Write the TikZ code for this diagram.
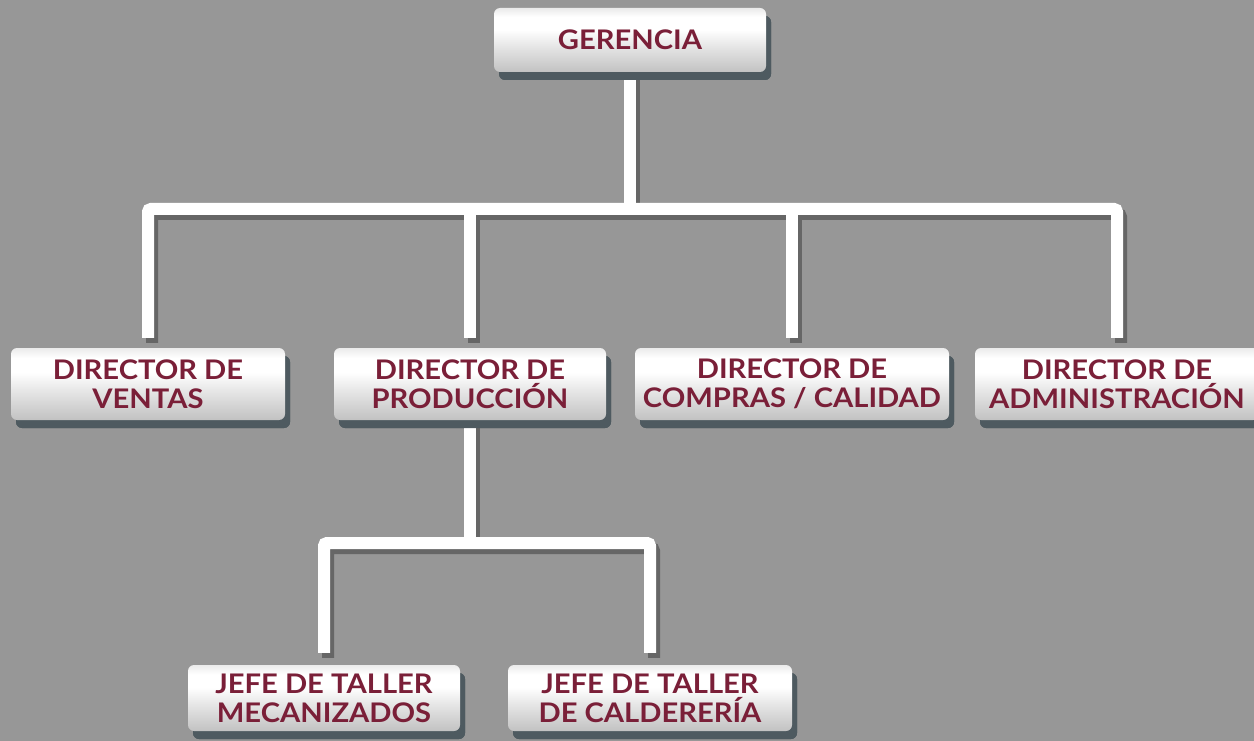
\documentclass[tikz,border=0pt]{standalone}
\usepackage{fontspec}
\setmainfont{Lato}
\newfontfamily\boxfont{Lato}[FakeStretch=1.08]
\usetikzlibrary{shadows,calc}
\definecolor{bg}{HTML}{979797}
\definecolor{maroon}{HTML}{7A1F38}
\definecolor{boxshadow}{HTML}{4E5A60}
\definecolor{lineshadow}{HTML}{666666}
\pgfdeclareverticalshading{silver}{100bp}{%
  color(0bp)=(black!30);
  color(25bp)=(black!24);
  color(45bp)=(black!10);
  color(58bp)=(white);
  color(68bp)=(white);
  color(82bp)=(black!16);
  color(100bp)=(black!26)}
\tikzset{
  orgbox/.style={rectangle, rounded corners=6pt, shading=silver,
    minimum height=72pt, align=center, inner sep=0pt,
    font=\boxfont\fontsize{27}{29}\selectfont\bfseries, text=maroon,
    drop shadow={shadow xshift=5pt, shadow yshift=-8pt, fill=boxshadow, opacity=1}},
  conn/.style={draw=white, line width=12pt, rounded corners=3pt},
  connshadow/.style={draw=lineshadow, line width=12pt, rounded corners=3pt,
    transform canvas={shift={(4pt,-5pt)}}}
}
\begin{document}
\begin{tikzpicture}[x=1pt,y=-1pt]
\useasboundingbox (0,0) rectangle (1254,741);
\fill[bg] (0,0) rectangle (1254,741);
% invisible placeholders so that anchors exist before connectors are drawn
\begin{scope}[overlay]
\path
  (630,40)  node[orgbox, opacity=0, minimum width=272pt, minimum height=64pt] (ger) {}
  (148,384) node[orgbox, opacity=0, minimum width=274pt] (ven) {}
  (470,384) node[orgbox, opacity=0, minimum width=272pt] (pro) {}
  (792,384) node[orgbox, opacity=0, minimum width=314pt] (com) {}
  (1117,384) node[orgbox, opacity=0, minimum width=284pt] (adm) {}
  (324,698) node[orgbox, opacity=0, minimum width=272pt, minimum height=66pt] (mec) {}
  (650,698) node[orgbox, opacity=0, minimum width=284pt, minimum height=66pt] (cal) {};
\end{scope}
\coordinate (b1) at (630,209);
\coordinate (b2) at (470,543);
% connectors (shadow first, then white)
\foreach \s in {connshadow, conn}{
  \draw[\s] (ger.south) -- (b1);
  \draw[\s] ([yshift=10pt]ven.north) |- (adm.north |- b1) -- ([yshift=10pt]adm.north);
  \draw[\s] ([yshift=10pt]pro.north) -- (pro.north |- b1);
  \draw[\s] ([yshift=10pt]com.north) -- (com.north |- b1);
  \draw[\s] (pro.south) -- (b2);
  \draw[\s] ([yshift=12pt]mec.north) |- (b2) -| ([yshift=12pt]cal.north);
}
% boxes
\node[orgbox, minimum width=272pt, minimum height=64pt] (gerb) at (ger) {GERENCIA};
\node[orgbox, minimum width=274pt] (venb) at (ven) {DIRECTOR DE\\VENTAS};
\node[orgbox, minimum width=272pt] (prob) at (pro) {DIRECTOR DE\\PRODUCCIÓN};
\node[orgbox, minimum width=314pt] (comb) at (com) {DIRECTOR DE\\COMPRAS / CALIDAD};
\node[orgbox, minimum width=284pt] (admb) at (adm) {DIRECTOR DE\\ADMINISTRACIÓN};
\node[orgbox, minimum width=272pt, minimum height=66pt] (mecb) at (mec) {JEFE DE TALLER\\MECANIZADOS};
\node[orgbox, minimum width=284pt, minimum height=66pt] (calb) at (cal) {JEFE DE TALLER\\DE CALDERERÍA};
\end{tikzpicture}
\end{document}
